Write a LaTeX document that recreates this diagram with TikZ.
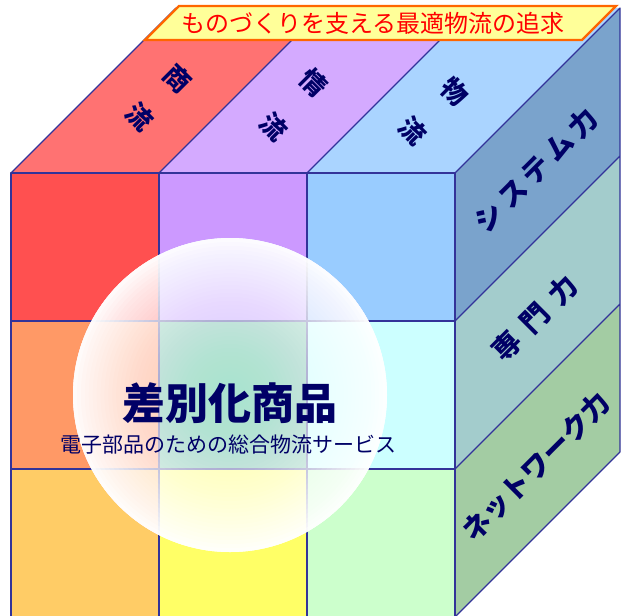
\documentclass[tikz,border=0pt]{standalone}
\usepackage{fontspec}
\setmainfont{Noto Sans CJK JP}
\definecolor{linec}{HTML}{333399}
\definecolor{txtc}{HTML}{000066}
\definecolor{topred}{HTML}{FF7272}
\definecolor{toppur}{HTML}{D4AAFF}
\definecolor{topblu}{HTML}{AAD4FF}
\definecolor{sidea}{HTML}{7AA3CC}
\definecolor{sideb}{HTML}{A3CCCC}
\definecolor{sidec}{HTML}{A3CCA3}
\definecolor{fa}{HTML}{FF5050}
\definecolor{fb}{HTML}{CC99FF}
\definecolor{fc}{HTML}{99CCFF}
\definecolor{fd}{HTML}{FF9966}
\definecolor{fe}{HTML}{66CCAA}
\definecolor{ff}{HTML}{CCFFFF}
\definecolor{fg}{HTML}{FFCC66}
\definecolor{fh}{HTML}{FFFF66}
\definecolor{fi}{HTML}{CCFFCC}
\definecolor{banfill}{HTML}{FFFF99}
\definecolor{banline}{HTML}{FF6600}
\tikzset{
  face/.style={draw=linec, line width=1.1pt, line join=round},
  toplabel/.style={font=\fontsize{26}{26}\selectfont\bfseries, text=txtc, rotate=-45, inner sep=0pt},
  sidelabel/.style={font=\fontsize{28}{28}\selectfont\bfseries, text=txtc, rotate=45, inner sep=0pt},
  banner/.style={draw=banline, line width=2.4pt, fill=banfill, line join=miter},
}
\begin{document}
\begin{tikzpicture}[x=1pt,y=-1pt]
\useasboundingbox (0,0) rectangle (623,615);
% top face
\fill[topred] (11,173)--(159,173)--(324,8)--(176,8)--cycle;
\fill[toppur] (159,173)--(307,173)--(472,8)--(324,8)--cycle;
\fill[topblu] (307,173)--(455,173)--(620,8)--(472,8)--cycle;
\draw[face] (11,173)--(176,8) (159,173)--(324,8) (307,173)--(472,8);
% side face
\fill[sidea] (455,173)--(620,8)--(620,156)--(455,321)--cycle;
\fill[sideb] (455,321)--(620,156)--(620,304)--(455,469)--cycle;
\fill[sidec] (455,469)--(620,304)--(620,452)--(455,617)--cycle;
\draw[face] (455,173)--(620,8)--(620,452)--(455,617) (455,321)--(620,156) (455,469)--(620,304);
% front face
\fill[fa] (11,173) rectangle (159,321);
\fill[fb] (159,173) rectangle (307,321);
\fill[fc] (307,173) rectangle (455,321);
\fill[fd] (11,321) rectangle (159,469);
\fill[fe] (159,321) rectangle (307,469);
\fill[ff] (307,321) rectangle (455,469);
\fill[fg] (11,469) rectangle (159,617);
\fill[fh] (159,469) rectangle (307,617);
\fill[fi] (307,469) rectangle (455,617);
\draw[face] (11,173) rectangle (455,617);
\draw[face] (159,173)--(159,617) (307,173)--(307,617) (11,321)--(455,321) (11,469)--(455,469);
% top labels
\node[toplabel] (t1a) at (178,79) {商};
\node[toplabel] (t1b) at (140,117) {流};
\node[toplabel] (t2a) at (314,83) {情};
\node[toplabel] (t2b) at (274,127) {流};
\node[toplabel] (t3a) at (455,92) {物};
\node[toplabel] (t3b) at (413,131) {流};
% side labels
\node[sidelabel] (s1) at (536,170) {\addfontfeature{LetterSpace=20}システム力};
\node[sidelabel] (s2) at (535,318) {\addfontfeature{LetterSpace=40}専門力};
\node[sidelabel] (s3) at (536,467) {ネットワーク力};
% glass circle
\fill[white, opacity=0.45] (230,395) circle[radius=157pt];
\foreach \k in {1,...,39}{
  \pgfmathsetmacro\gk{1-(\k/40)^1.35}
  \pgfmathsetmacro\gp{1-((\k-1)/40)^1.35}
  \pgfmathsetmacro\ok{1-\gk/\gp}
  \pgfmathsetmacro\rk{157*\k/40}
  \fill[white, opacity=\ok, even odd rule] (230,395) circle[radius=157pt] (230,395) circle[radius=\rk pt];
}
\node[font=\fontsize{43}{43}\selectfont\bfseries, text=txtc, inner sep=0pt] (title) at (230,403) {差別化商品};
\node[font=\fontsize{21}{21}\selectfont, text=txtc, inner sep=0pt] (sub) at (228,445) {電子部品のための総合物流サービス};
% banner
\draw[banner] (145,40)--(179,6)--(616,6)--(582,40)--cycle;
\node[font=\fontsize{24}{24}\selectfont, text=red, inner sep=0pt] (ban) at (373,23) {ものづくりを支える最適物流の追求};
\end{tikzpicture}
\end{document}
